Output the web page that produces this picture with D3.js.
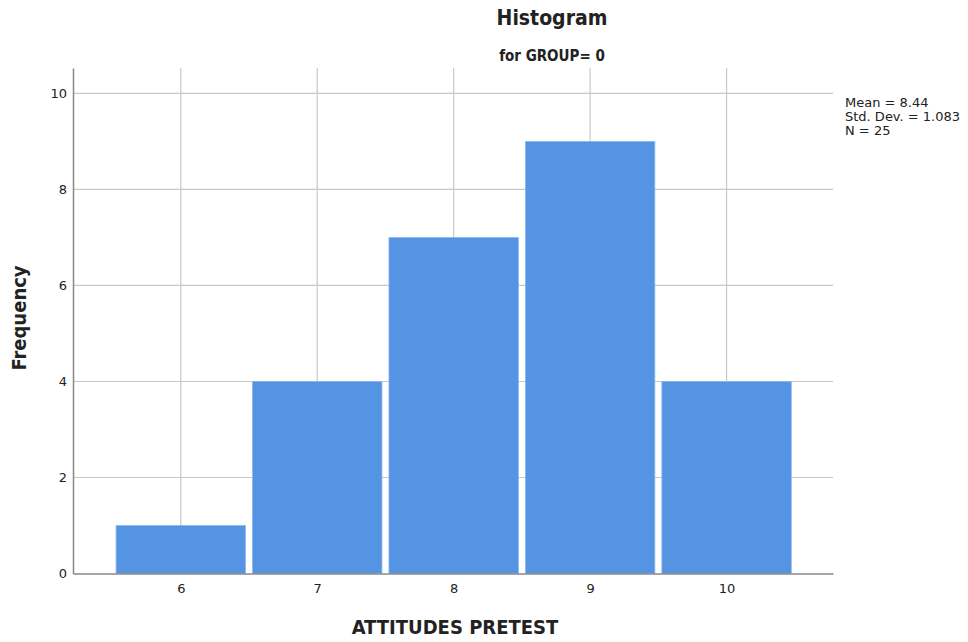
<!DOCTYPE html>
<html>
<head>
<meta charset="utf-8">
<script src="https://cdn.jsdelivr.net/npm/d3@7"></script>
<style>
  html, body { margin: 0; padding: 0; background: #fff; }
  svg { display: block; }
  text { font-family: "DejaVu Sans", "Noto Sans", sans-serif; fill: #222; }
  .cond { font-family: "Liberation Sans Narrow", "DejaVu Sans Condensed", "Roboto Condensed", "Open Sans", sans-serif; font-weight: bold; font-stretch: condensed; }
</style>
</head>
<body>
<svg id="chart" width="968" height="642"></svg>
<script>
// Attitudes pretest scores for GROUP = 0
const scores = [6, 7, 8, 9, 10];
const frequencies = [1, 4, 7, 9, 4];
const yTicks = [0, 2, 4, 6, 8, 10];
const statsLines = ["Mean = 8.44", "Std. Dev. = 1.083", "N = 25"];

const svg = d3.select("#chart");
const plot = { left: 73, right: 833, top: 68, bottom: 573.5 };

const x = d3.scaleLinear().domain([5.21, 10.78]).range([plot.left, plot.right]);
const y = d3.scaleLinear().domain([0, 10.53]).range([plot.bottom, plot.top]);

// grid
const grid = svg.append("g");
grid.selectAll("line.h").data(yTicks.filter(d => d > 0)).join("line")
  .attr("x1", plot.left).attr("x2", plot.right)
  .attr("y1", d => y(d)).attr("y2", d => y(d))
  .attr("stroke", "#c8c8c8").attr("stroke-width", 1.2);
grid.selectAll("line.v").data(scores).join("line")
  .attr("x1", d => x(d)).attr("x2", d => x(d))
  .attr("y1", plot.top).attr("y2", plot.bottom)
  .attr("stroke", "#c8c8c8").attr("stroke-width", 1.2);

// bars
const inset = 3.5;
svg.append("g").selectAll("rect").data(scores).join("rect")
  .attr("x", (d) => x(d - 0.5) + inset)
  .attr("width", (d) => x(d + 0.5) - x(d - 0.5) - 2 * inset)
  .attr("y", (d, i) => y(frequencies[i]))
  .attr("height", (d, i) => y(0) - y(frequencies[i]))
  .attr("fill", "#5494e3")
  .attr("stroke", "#8db8ee").attr("stroke-width", 0.8);

// axes
const yAxis = svg.append("g").attr("transform", `translate(${plot.left},0)`)
  .call(d3.axisLeft(y).tickValues(yTicks).tickFormat(d3.format("d")).tickSize(0).tickPadding(6));
const xAxis = svg.append("g").attr("transform", `translate(0,${plot.bottom})`)
  .call(d3.axisBottom(x).tickValues(scores).tickFormat(d3.format("d")).tickSize(0).tickPadding(10));
[yAxis, xAxis].forEach(a => {
  a.select(".domain").attr("stroke", "#888").attr("stroke-width", 1.5);
  a.selectAll("text").style("font-size", "13px").attr("fill", "#222")
    .style("font-family", "'DejaVu Sans', sans-serif");
});

// titles
svg.append("text").attr("class", "cond").attr("x", 552).attr("y", 25)
  .attr("text-anchor", "middle").style("font-size", "21px").text("Histogram");
svg.append("text").attr("class", "cond").attr("x", 552).attr("y", 61)
  .attr("text-anchor", "middle").style("font-size", "15px").text("for GROUP= 0");
svg.append("text").attr("class", "cond")
  .attr("transform", `translate(26,318) rotate(-90)`)
  .attr("text-anchor", "middle").style("font-size", "20px").text("Frequency");
svg.append("text").attr("class", "cond").attr("x", 455).attr("y", 634)
  .attr("text-anchor", "middle").style("font-size", "20px").text("ATTITUDES PRETEST");

// summary statistics
svg.append("g").selectAll("text").data(statsLines).join("text")
  .attr("x", 845).attr("y", (d, i) => 107 + i * 14)
  .style("font-size", "13px").style("font-family", "'DejaVu Sans', sans-serif")
  .text(d => d);
</script>
</body>
</html>
